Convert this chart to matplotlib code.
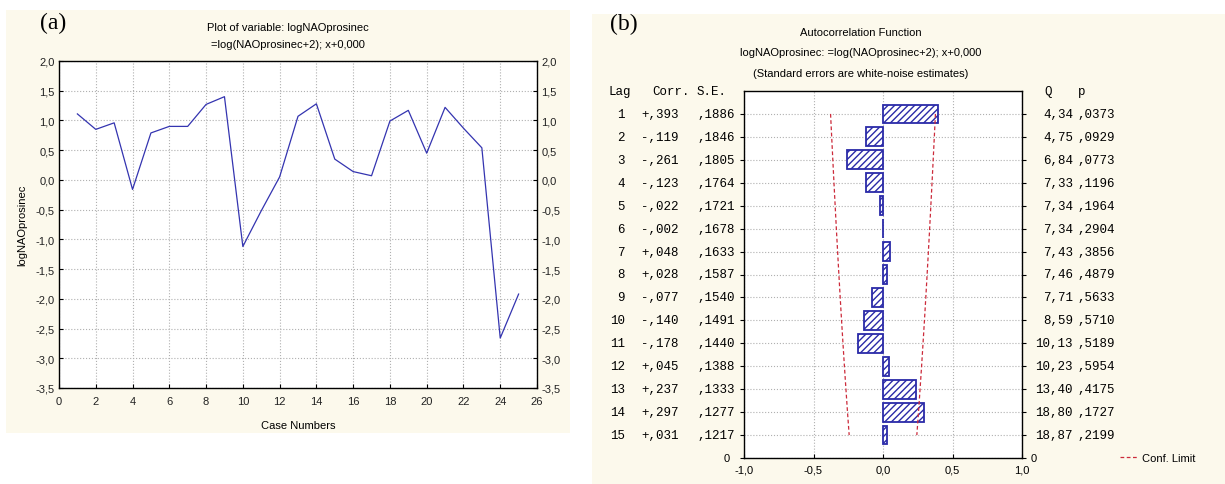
import numpy as np
import matplotlib.pyplot as plt
from matplotlib.patches import Rectangle

# series (a): logNAOprosinec by case number
cases = np.arange(1, 26)
lognao = [1.11, 0.85, 0.96, -0.16, 0.79, 0.90, 0.90, 1.27, 1.40, -1.12,
          -0.52, 0.05, 1.07, 1.28, 0.35, 0.14, 0.07, 0.99, 1.17, 0.45,
          1.22, 0.87, 0.54, -2.66, -1.92]

# autocorrelation table (b)
lags = np.arange(1, 16)
corr = [0.393, -0.119, -0.261, -0.123, -0.022, -0.002, 0.048, 0.028,
        -0.077, -0.140, -0.178, 0.045, 0.237, 0.297, 0.031]
se = [0.1886, 0.1846, 0.1805, 0.1764, 0.1721, 0.1678, 0.1633, 0.1587,
      0.1540, 0.1491, 0.1440, 0.1388, 0.1333, 0.1277, 0.1217]
qstat = [4.34, 4.75, 6.84, 7.33, 7.34, 7.34, 7.43, 7.46, 7.71, 8.59,
         10.13, 10.23, 13.40, 18.80, 18.87]
pval = [0.0373, 0.0929, 0.0773, 0.1196, 0.1964, 0.2904, 0.3856, 0.4879,
        0.5633, 0.5710, 0.5189, 0.5954, 0.4175, 0.1727, 0.2199]

W, H = 1225, 485
BG = '#fcf9ec'
LINE = '#3434b0'
SANS = 'Liberation Sans'
MONO = 'Liberation Mono'
SERIF = 'Liberation Serif'


def px(x, y):
    return x / W, 1 - y / H


def comma(v, nd):
    return f'{v:.{nd}f}'.replace('.', ',')


def no_lead(v, nd, sign=False):
    s = f'{abs(v):.{nd}f}'[1:].replace('.', ',')
    if sign:
        s = ('-' if v < 0 else '+') + s
    return s


fig = plt.figure(figsize=(W / 100, H / 100), dpi=100)
fig.patches.append(Rectangle(px(6, 434), 564 / W, 423 / H, transform=fig.transFigure,
                             facecolor=BG, edgecolor='none', zorder=-10))
fig.patches.append(Rectangle(px(592, 485), 633 / W, 470 / H, transform=fig.transFigure,
                             facecolor=BG, edgecolor='none', zorder=-10))

# ---- (a) line plot ----
ax1 = fig.add_axes([59 / W, 1 - 389 / H, 478 / W, 327 / H])
ax1.plot(cases, lognao, color=LINE, lw=0.9)
ax1.set_xlim(0, 26)
ax1.set_ylim(-3.5, 2.0)
xt = np.arange(0, 27, 2)
yt = np.arange(-3.5, 2.01, 0.5)
ax1.set_xticks(xt)
ax1.set_xticklabels([str(v) for v in xt])
ax1.set_yticks(yt)
ax1.set_yticklabels([comma(v, 1) for v in yt])
ax1.tick_params(labelsize=8, direction='in', length=3, right=True, labelright=True,
                pad=3)
ax1.tick_params(axis='x', pad=6)
for lab in ax1.get_xticklabels() + ax1.get_yticklabels():
    lab.set_fontfamily(SANS)
    lab.set_color('#222222')
ax1.grid(True, color='#b0b0b0', ls=':', lw=0.8)
for sp in ax1.spines.values():
    sp.set_linewidth(1.0)
ax1.set_xlabel('Case Numbers', fontsize=8, family=SANS, labelpad=10)
ax1.set_ylabel('logNAOprosinec', fontsize=8, family=SANS, labelpad=6)

fig.text(*px(288, 28), 'Plot of variable: logNAOprosinec', ha='center', va='center',
         fontsize=8, family=SANS)
fig.text(*px(288, 45), '=log(NAOprosinec+2); x+0,000', ha='center', va='center',
         fontsize=8, family=SANS)
fig.text(*px(40, 23), '(a)', ha='left', va='center', fontsize=17, family=SERIF)

# ---- (b) autocorrelation bars ----
ax2 = fig.add_axes([744 / W, 1 - 459 / H, 278 / W, 367 / H])
ypos = 16 - lags
ax2.barh(ypos, corr, height=0.82, color='white', edgecolor='#2a2aa8', hatch='/////',
         lw=1.3, zorder=3)
lim = 2 * np.array(se)
ax2.plot(lim, ypos, color='#cc2a3a', ls=(0, (3, 2)), lw=0.9, zorder=4)
ax2.plot(-lim, ypos, color='#cc2a3a', ls=(0, (3, 2)), lw=0.9, zorder=4,
         label='Conf. Limit')
ax2.set_xlim(-1, 1)
ax2.set_ylim(0, 16)
bx = [-1.0, -0.5, 0.0, 0.5, 1.0]
ax2.set_xticks(bx)
ax2.set_xticklabels([comma(v, 1) for v in bx])
ax2.set_yticks(np.r_[0, ypos])
ax2.set_yticklabels([])
ax2.tick_params(axis='y', direction='out', length=3, left=True, right=True)
ax2.tick_params(axis='x', direction='in', length=3, labelsize=8, pad=5)
for lab in ax2.get_xticklabels():
    lab.set_fontfamily(SANS)
ax2.grid(True, color='#b0b0b0', ls=':', lw=0.8)
for sp in ax2.spines.values():
    sp.set_linewidth(1.0)

tr = ax2.get_yaxis_transform()
ax2.text(-0.05, 0, '0', transform=tr, ha='right', va='center', fontsize=8, family=SANS)
ax2.text(1.03, 0, '0', transform=tr, ha='left', va='center', fontsize=8, family=SANS)

ax_w = 278


def ax_x(xpix):
    return (xpix - 744) / ax_w


mono = dict(fontsize=9, family=MONO, va='center', transform=tr)
ax2.text(ax_x(608), 16, 'Lag', ha='left', **mono)
ax2.text(ax_x(652), 16, 'Corr.', ha='left', **mono)
ax2.text(ax_x(697), 16, 'S.E.', ha='left', **mono)
ax2.text(ax_x(1044), 16, 'Q', ha='left', **mono)
ax2.text(ax_x(1078), 16, 'p', ha='left', **mono)
for k, c, s, q, p, y in zip(lags, corr, se, qstat, pval, ypos):
    ax2.text(ax_x(625), y, str(k), ha='right', **mono)
    ax2.text(ax_x(641), y, no_lead(c, 3, sign=True), ha='left', **mono)
    ax2.text(ax_x(697), y, no_lead(s, 4), ha='left', **mono)
    ax2.text(ax_x(1073), y, comma(q, 2), ha='right', **mono)
    ax2.text(ax_x(1077), y, no_lead(p, 4), ha='left', **mono)

fig.text(*px(861, 33), 'Autocorrelation Function', ha='center', va='center',
         fontsize=8, family=SANS)
fig.text(*px(861, 53), 'logNAOprosinec: =log(NAOprosinec+2); x+0,000', ha='center',
         va='center', fontsize=8, family=SANS)
fig.text(*px(861, 74), '(Standard errors are white-noise estimates)', ha='center',
         va='center', fontsize=8, family=SANS)
fig.text(*px(610, 24), '(b)', ha='left', va='center', fontsize=17, family=SERIF)

fig.legend(handles=[ax2.get_lines()[1]], loc='center left', bbox_to_anchor=px(1110, 459),
           frameon=False, handlelength=1.6, handletextpad=0.4,
           prop={'family': SANS, 'size': 8})

fig.savefig('out.png', dpi=100)
